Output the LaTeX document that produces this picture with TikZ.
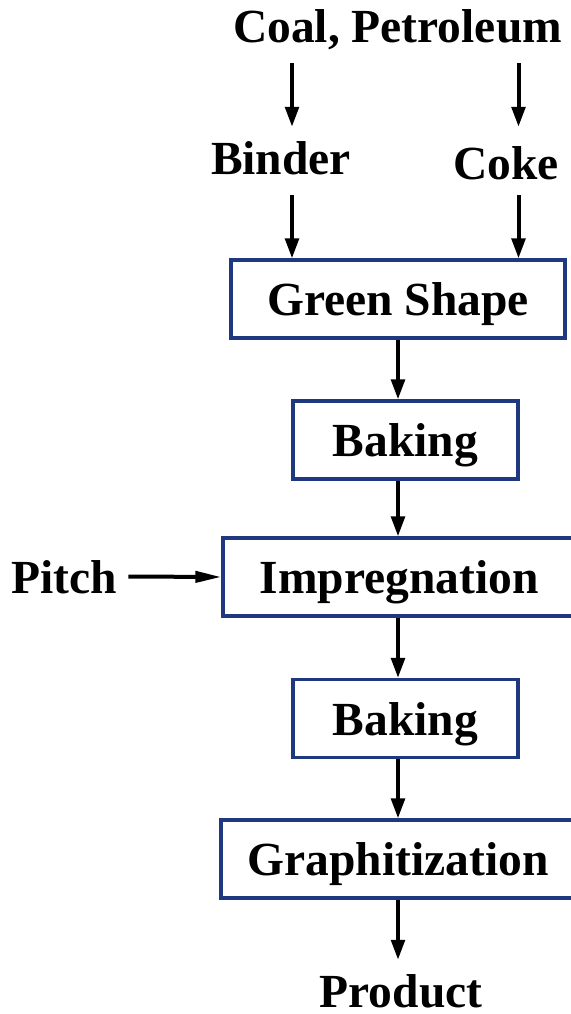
\documentclass[tikz,border=0pt]{standalone}
\usepackage{fontspec}
\setmainfont{Liberation Serif}
\usetikzlibrary{arrows.meta}
\definecolor{boxblue}{RGB}{31,56,128}
\tikzset{
  lbl/.style={font=\fontsize{47.5}{50}\selectfont\bfseries, inner sep=0pt,
              text height=33pt, text depth=0pt},
  stage/.style={lbl, draw=boxblue, line width=3.2pt, fill=white,
                minimum height=78pt},
  flow/.style={line width=4pt, -{Triangle[length=20pt,width=13.5pt]}},
  feed/.style={line width=4pt, -{Triangle[length=26pt,width=11pt]}}
}
\begin{document}
\begin{tikzpicture}[x=1pt,y=-1pt]
\useasboundingbox (0,0) rectangle (570,1014);

% arrow columns
\coordinate (colL) at (292,0);
\coordinate (colR) at (518.5,0);
\coordinate (colM) at (398,0);

% raw materials
\node[lbl, anchor=base] (coal)   at (397.5,43) {Coal, Petroleum};
\node[lbl, anchor=base] (binder) at (281,174)  {Binder};
\node[lbl, anchor=base] (coke)   at (506,179)  {Coke};

% process stages
\node[stage, minimum width=334pt] (green) at (398,299)   {Green Shape};
\node[stage, minimum width=225pt] (bake1) at (405.5,440) {Baking};
\node[stage, minimum width=352pt] (impr)  at (399,577)   {Impregnation};
\node[stage, minimum width=225pt] (bake2) at (405.5,718.5) {Baking};
\node[stage, minimum width=354pt] (graph) at (398,859)   {Graphitization};

\node[lbl, anchor=base] (pitch)   at (64.5,593) {Pitch};
\node[lbl, anchor=base] (product) at (401,1007) {Product};

% connectors
\draw[flow] (coal.south -| colL) ++(0,20) -- ([yshift=14pt]binder.north -| colL);
\draw[flow] (coal.south -| colR) ++(0,20) -- ([yshift=19pt]coke.north -| colR);
\draw[flow] (binder.south -| colL) ++(0,21) -- (green.north -| colL);
\draw[flow] (coke.south -| colR) ++(0,16) -- (green.north -| colR);
\draw[flow] (green.south -| colM) -- (bake1.north -| colM);
\draw[flow] (bake1.south -| colM) -- (impr.north -| colM);
\draw[flow] (impr.south -| colM) -- (bake2.north -| colM);
\draw[flow] (bake2.south -| colM) -- (graph.north -| colM);
\draw[flow] (graph.south -| colM) -- ([yshift=14pt]product.north -| colM);
\draw[feed] ([xshift=11pt]pitch.east) -- (impr.west);
\end{tikzpicture}
\end{document}
